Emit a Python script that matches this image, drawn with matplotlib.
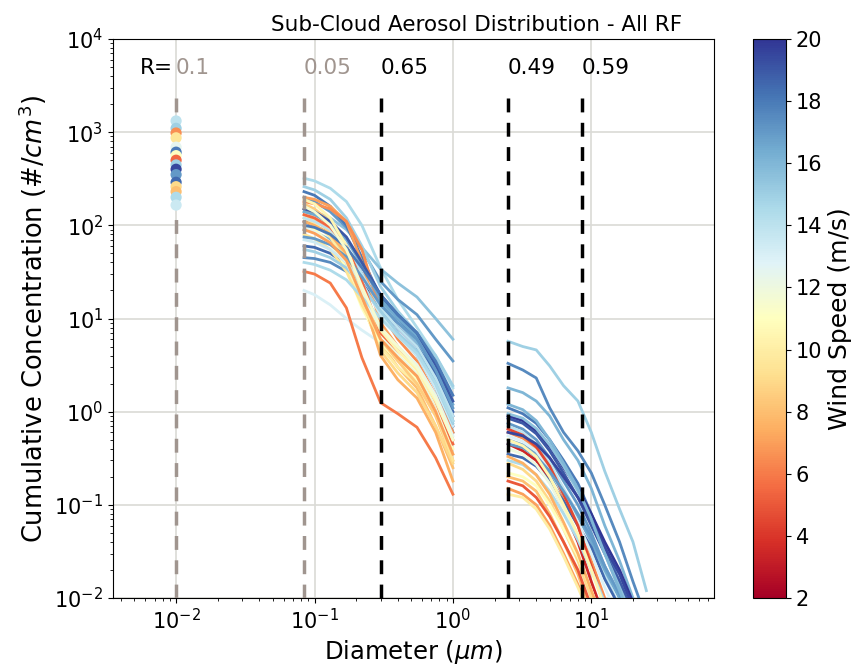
import matplotlib

matplotlib.use("Agg")

import matplotlib.pyplot as plt
from matplotlib.colors import Normalize
from matplotlib.cm import ScalarMappable

# ---- data ---------------------------------------------------------------
# single-size counter (plotted at 0.01 um)
cn_diam = 0.01
cn_conc = [1320, 1100, 980, 870, 690, 610, 560, 500, 445, 400, 350, 290, 260, 230, 200, 165]
cn_wind = [14, 15, 6.5, 9.5, 12.5, 18, 11, 5.5, 15, 19.5, 17, 18.5, 9, 8, 14.5, 13.5]

# fine-mode cumulative spectra
fine_diam = [0.084, 0.1, 0.13, 0.17, 0.22, 0.3, 0.4, 0.55, 0.75, 1.0]
fine_wind = [14.5, 15.5, 17, 15, 18, 19.5, 16, 18.5, 17.5, 13, 6, 7, 6.5, 8, 9, 10, 11,
             12, 8.5, 7.5, 9.5, 14, 16.5, 13.5, 15, 19, 5.5, 10.5, 12.5, 17, 14.5, 7, 18, 11.5]
fine_conc = [
    [320, 300, 250, 180, 100, 35, 16, 8, 4, 1.8],
    [150, 140, 120, 90, 58, 34, 24, 17, 10, 6.0],
    [200, 180, 140, 95, 55, 25, 16, 11, 6, 3.5],
    [260, 240, 190, 120, 60, 22, 12, 7, 4, 1.9],
    [230, 210, 160, 100, 45, 17, 10, 6, 2.5, 0.9],
    [110, 100, 80, 55, 30, 14, 8, 5, 2, 0.7],
    [90, 85, 70, 50, 30, 15, 9, 5.5, 2.2, 0.8],
    [60, 58, 50, 38, 24, 13, 8, 5, 2.5, 1.0],
    [45, 44, 40, 32, 22, 12, 7, 4, 1.8, 0.6],
    [20, 18, 14, 10, 7.5, 5.5, 4, 2.5, 1.2, 0.5],
    [32, 30, 24, 13, 3.8, 1.25, 0.95, 0.68, 0.32, 0.13],
    [200, 190, 160, 110, 40, 9, 5, 3, 1.2, 0.5],
    [180, 170, 150, 110, 55, 12, 6, 3.5, 1.5, 0.6],
    [150, 130, 95, 55, 20, 5.5, 3, 1.8, 0.7, 0.25],
    [130, 115, 85, 45, 15, 4.5, 2.6, 1.6, 0.7, 0.28],
    [120, 105, 75, 40, 14, 5, 3, 2, 0.9, 0.35],
    [100, 90, 65, 35, 13, 5.5, 3.5, 2.2, 1.0, 0.4],
    [140, 125, 90, 50, 20, 7, 4, 2.5, 1.2, 0.45],
    [170, 150, 110, 60, 20, 6, 3.5, 2, 0.9, 0.3],
    [110, 100, 80, 50, 18, 4, 2.2, 1.4, 0.6, 0.18],
    [80, 72, 55, 32, 14, 6, 3.8, 2.4, 1.0, 0.3],
    [120, 110, 90, 60, 30, 13, 8, 5, 2.3, 0.9],
    [140, 130, 105, 70, 38, 16, 10, 6.5, 3, 1.2],
    [70, 66, 55, 40, 24, 11, 6.5, 4, 1.8, 0.7],
    [55, 52, 45, 35, 22, 12, 7, 4.5, 2, 0.75],
    [150, 140, 110, 75, 40, 18, 11, 7, 3.2, 1.3],
    [130, 120, 95, 60, 25, 7, 4.5, 3, 1.3, 0.45],
    [190, 170, 120, 60, 20, 7.5, 4.5, 2.8, 1.3, 0.5],
    [95, 85, 65, 40, 18, 8, 5, 3.2, 1.5, 0.55],
    [75, 72, 62, 46, 28, 14, 9, 6, 2.8, 1.1],
    [40, 38, 33, 26, 17, 10, 6.5, 4.2, 2.0, 0.8],
    [90, 82, 65, 42, 17, 6, 3.8, 2.4, 1.0, 0.35],
    [100, 95, 80, 58, 35, 18, 11, 7, 3.5, 1.5],
    [160, 140, 100, 55, 22, 8, 5, 3, 1.4, 0.5],
]

# coarse-mode cumulative spectra
coarse_diam = [2.5, 3.2, 4.0, 5.0, 6.3, 8.0, 10, 12.5, 16, 20, 25]
coarse_wind = [15, 17.5, 16, 18, 20, 19, 17, 14, 6.5, 3.5, 16.5, 18.5, 9, 8, 7, 5, 11,
               10, 13, 15.5, 12, 4.5, 19.5, 14.5, 7.5, 17, 10.5, 16]
coarse_conc = [
    [5.7, 5.0, 4.6, 3.1, 1.9, 1.3, 0.6, 0.23, 0.09, 0.04, 0.012],
    [3.3, 2.8, 2.3, 1.1, 0.6, 0.38, 0.22, 0.1, 0.04, 0.015, 0.006],
    [1.8, 1.6, 1.3, 0.9, 0.5, 0.3, 0.15, 0.06, 0.025, 0.01, 0.004],
    [1.1, 0.95, 0.75, 0.5, 0.3, 0.17, 0.08, 0.035, 0.015, 0.007, 0.003],
    [0.9, 0.8, 0.62, 0.42, 0.25, 0.15, 0.08, 0.04, 0.02, 0.009, 0.004],
    [0.85, 0.75, 0.58, 0.38, 0.22, 0.12, 0.06, 0.03, 0.015, 0.007, 0.003],
    [0.75, 0.65, 0.5, 0.32, 0.18, 0.1, 0.05, 0.022, 0.01, 0.005, 0.002],
    [0.7, 0.6, 0.45, 0.28, 0.15, 0.08, 0.04, 0.018, 0.008, 0.004, 0.002],
    [0.6, 0.52, 0.4, 0.25, 0.12, 0.06, 0.025, 0.01, 0.005, 0.002, 0.001],
    [0.45, 0.38, 0.3, 0.18, 0.09, 0.04, 0.015, 0.006, 0.003, 0.0015, 0.001],
    [0.5, 0.44, 0.35, 0.22, 0.13, 0.075, 0.04, 0.02, 0.01, 0.005, 0.002],
    [0.35, 0.32, 0.26, 0.18, 0.11, 0.06, 0.035, 0.016, 0.008, 0.004, 0.002],
    [0.28, 0.24, 0.18, 0.11, 0.055, 0.025, 0.01, 0.004, 0.002, 0.001, 0.001],
    [0.2, 0.18, 0.14, 0.08, 0.04, 0.018, 0.007, 0.003, 0.0015, 0.001, 0.001],
    [0.15, 0.13, 0.1, 0.06, 0.03, 0.014, 0.006, 0.003, 0.0015, 0.001, 0.001],
    [0.18, 0.16, 0.12, 0.075, 0.04, 0.02, 0.008, 0.003, 0.0015, 0.001, 0.001],
    [0.22, 0.2, 0.16, 0.1, 0.055, 0.028, 0.012, 0.005, 0.002, 0.001, 0.001],
    [0.13, 0.12, 0.09, 0.055, 0.028, 0.013, 0.006, 0.0025, 0.001, 0.001, 0.001],
    [0.55, 0.48, 0.38, 0.24, 0.13, 0.065, 0.03, 0.013, 0.006, 0.003, 0.0015],
    [0.95, 0.85, 0.66, 0.44, 0.26, 0.14, 0.07, 0.03, 0.013, 0.006, 0.003],
    [0.4, 0.35, 0.27, 0.17, 0.09, 0.045, 0.02, 0.008, 0.004, 0.002, 0.001],
    [0.65, 0.56, 0.42, 0.26, 0.13, 0.06, 0.022, 0.008, 0.004, 0.002, 0.001],
    [0.6, 0.55, 0.45, 0.32, 0.2, 0.12, 0.07, 0.035, 0.018, 0.008, 0.004],
    [0.3, 0.27, 0.21, 0.14, 0.08, 0.042, 0.02, 0.009, 0.004, 0.002, 0.001],
    [0.33, 0.28, 0.21, 0.13, 0.065, 0.03, 0.012, 0.005, 0.002, 0.001, 0.001],
    [0.45, 0.41, 0.33, 0.23, 0.14, 0.08, 0.045, 0.022, 0.011, 0.005, 0.002],
    [0.5, 0.43, 0.33, 0.2, 0.1, 0.048, 0.02, 0.008, 0.003, 0.0015, 0.001],
    [1.2, 1.05, 0.8, 0.5, 0.28, 0.15, 0.07, 0.03, 0.012, 0.005, 0.002],
]

# cut sizes and correlation with wind speed
cut_diam = [0.01, 0.084, 0.3, 2.5, 8.5]
cut_r = ["0.1", "0.05", "0.65", "0.49", "0.59"]
cut_colors = ["#a0958f", "#a0958f", "black", "black", "black"]

# ---- plot ---------------------------------------------------------------
fig = plt.figure(figsize=(8.55, 6.67), dpi=100)
ax = fig.add_axes([113 / 855, 69 / 667, 601 / 855, 559 / 667])
cax = fig.add_axes([753 / 855, 69 / 667, 33 / 855, 559 / 667])

cmap = plt.get_cmap("RdYlBu")
norm = Normalize(vmin=2, vmax=20)

for ws, conc in zip(fine_wind, fine_conc):
    ax.plot(fine_diam, conc, color=cmap(norm(ws)), lw=2, zorder=2)
for ws, conc in zip(coarse_wind, coarse_conc):
    ax.plot(coarse_diam, conc, color=cmap(norm(ws)), lw=2, zorder=2)

for d, c in zip(cut_diam, cut_colors):
    ax.axvline(d, ymax=0.9, color=c, lw=2.5, ls=(0, (4, 3)), zorder=4)

ax.scatter([cn_diam] * len(cn_conc), cn_conc, c=cn_wind, cmap=cmap, norm=norm,
           s=65, zorder=5, edgecolors="none")

ax.set_xscale("log")
ax.set_yscale("log")
ax.set_xlim(0.0035, 77)
ax.set_ylim(1e-2, 1e4)
ax.grid(True, which="major", color="#dadad6", lw=1.2, zorder=0)
ax.set_axisbelow(True)

label_y = 4900
ax.text(0.0095, label_y, "R=", ha="right", va="center", fontsize=15.5, color="black")
for d, r, c in zip(cut_diam, cut_r, cut_colors):
    ax.text(d, label_y, r, ha="left", va="center", fontsize=15.5, color=c)

ax.tick_params(labelsize=15)
ax.set_xlabel(r"Diameter ($\mu m$)", fontsize=17.5)
ax.set_ylabel(r"Cumulative Concentration ($\#/cm^3$)", fontsize=18.5)
ax.set_title("Sub-Cloud Aerosol Distribution - All RF", fontsize=15.5, x=0.605)

sm = ScalarMappable(norm=norm, cmap=cmap)
cb = fig.colorbar(sm, cax=cax, ticks=range(2, 21, 2))
cb.ax.tick_params(labelsize=15)
cb.set_label("Wind Speed (m/s)", fontsize=18)

fig.savefig("out.png", dpi=100, facecolor="white")
